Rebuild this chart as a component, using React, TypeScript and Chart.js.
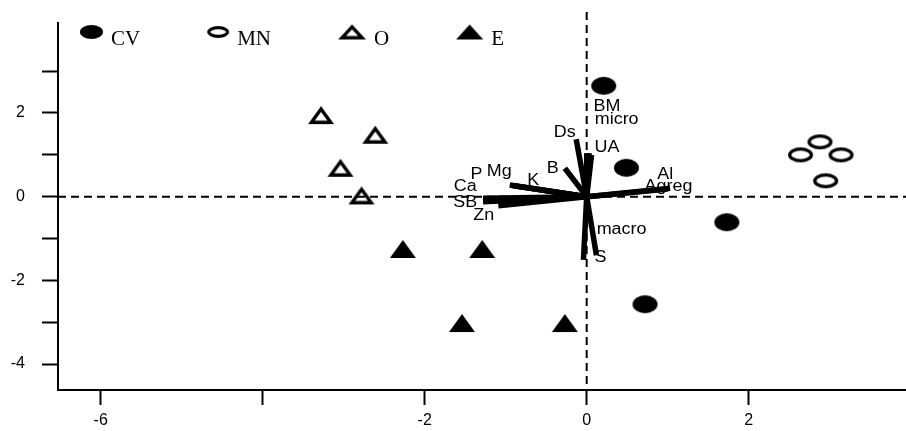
import React, { useEffect, useRef } from 'react';
import { Chart, registerables } from 'chart.js';

Chart.register(...registerables);

// ---- data ----
const groupNames = ['CV', 'MN', 'O', 'E'];
const cvX = [0.21, 0.49, 1.73, 0.72];
const cvY = [2.65, 0.69, -0.61, -2.57];
const mnX = [2.88, 2.64, 3.14, 2.95];
const mnY = [1.31, 1.0, 1.0, 0.38];
const oX = [-3.28, -2.61, -3.04, -2.78];
const oY = [1.95, 1.48, 0.69, 0.03];
const eX = [-2.27, -1.29, -1.54, -0.27];
const eY = [-1.25, -1.25, -3.02, -3.02];

const vecLabels = ['BM', 'micro', 'UA', 'Ds', 'B', 'K', 'Mg', 'P', 'Ca', 'SB', 'Zn', 'Al', 'Agreg', 'macro', 'S'];
const vecX = [0.03, 0.06, 0.0, -0.13, -0.27, -0.95, -0.93, -0.9, -1.28, -1.28, -1.09, 1.03, 1.0, 0.12, -0.04];
const vecY = [1.04, 1.0, 1.04, 1.37, 0.68, 0.28, 0.27, 0.26, -0.04, -0.12, -0.22, 0.2, 0.18, -1.4, -1.51];
const labX = [0.25, 0.37, 0.25, -0.27, -0.42, -0.66, -1.08, -1.36, -1.5, -1.5, -1.27, 0.97, 1.01, 0.43, 0.17];
const labY = [2.15, 1.85, 1.18, 1.52, 0.66, 0.38, 0.61, 0.52, 0.24, -0.14, -0.45, 0.52, 0.24, -0.78, -1.45];

const xTicks = [-6, -4, -2, 0, 2];
const xTickLabels = ['-6', '', '-2', '0', '2'];
const yTicks = [-4, -3, -2, -1, 0, 1, 2, 3];
const yTickLabels = ['-4', '', '-2', '', '0', '', '2', ''];

const X_MIN = -6.527;
const X_MAX = 3.942;
const Y_MIN = -4.62;
const Y_MAX = 4.15;

const SANS = '"Liberation Sans", Arial, sans-serif';
const SERIF = '"Liberation Serif", "Times New Roman", serif';

function makeMarker(kind: 'ellipse' | 'triangle', filled: boolean, w: number, h: number, lw: number) {
  const c = document.createElement('canvas');
  const pad = 2;
  c.width = Math.ceil(w + pad * 2);
  c.height = Math.ceil(h + pad * 2);
  const ctx = c.getContext('2d')!;
  const cx = c.width / 2;
  const cy = c.height / 2;
  ctx.fillStyle = '#000';
  ctx.strokeStyle = '#000';
  ctx.beginPath();
  if (kind === 'ellipse') {
    ctx.ellipse(cx, cy, w / 2, h / 2, 0, 0, Math.PI * 2);
  } else {
    ctx.moveTo(cx, cy - h / 2);
    ctx.lineTo(cx + w / 2, cy + h / 2);
    ctx.lineTo(cx - w / 2, cy + h / 2);
    ctx.closePath();
  }
  if (filled) {
    ctx.fill();
  } else {
    ctx.save();
    ctx.clip();
    ctx.lineWidth = lw * 2;
    ctx.lineJoin = 'miter';
    ctx.stroke();
    ctx.restore();
  }
  return c;
}

export default function App() {
  const ref = useRef<HTMLCanvasElement | null>(null);

  useEffect(() => {
    if (!ref.current) return;

    const plotMarkers = [
      makeMarker('ellipse', true, 25, 18, 0),
      makeMarker('ellipse', false, 25, 15, 3.3),
      makeMarker('triangle', false, 26, 18, 3.4),
      makeMarker('triangle', true, 26, 18, 0),
    ];
    const legendMarkers = [
      makeMarker('ellipse', true, 23, 14, 0),
      makeMarker('ellipse', false, 22, 12, 3.2),
      makeMarker('triangle', false, 28, 15, 3.4),
      makeMarker('triangle', true, 27, 15, 0),
    ];

    const groupXs = [cvX, mnX, oX, eX];
    const groupYs = [cvY, mnY, oY, eY];

    const vectorSets: any[] = vecLabels.map((name, i) => ({
      label: name,
      data: [
        { x: 0, y: 0 },
        { x: vecX[i], y: vecY[i] },
      ],
      showLine: true,
      borderColor: '#000',
      borderWidth: 5.5,
      borderCapStyle: 'butt',
      pointRadius: 0,
      pointHoverRadius: 0,
    }));

    const pointSets: any[] = groupNames.map((name, g) => ({
      label: name,
      data: groupXs[g].map((x, i) => ({ x, y: groupYs[g][i] })),
      pointStyle: plotMarkers[g],
      pointRadius: 10,
      pointHoverRadius: 10,
      backgroundColor: '#000',
      borderColor: '#000',
    }));

    const overlay = {
      id: 'overlay',
      beforeDatasetsDraw(chart: any) {
        const { ctx, chartArea, scales } = chart;
        const x0 = scales.x.getPixelForValue(0);
        const y0 = scales.y.getPixelForValue(0);
        ctx.save();
        ctx.strokeStyle = '#000';
        ctx.lineWidth = 2;
        ctx.setLineDash([8, 5]);
        ctx.beginPath();
        ctx.moveTo(chartArea.left, y0);
        ctx.lineTo(chartArea.right, y0);
        ctx.stroke();
        ctx.beginPath();
        ctx.moveTo(x0, chartArea.top - 11);
        ctx.lineTo(x0, chartArea.bottom);
        ctx.stroke();
        ctx.restore();
      },
      afterDatasetsDraw(chart: any) {
        const { ctx, chartArea, scales } = chart;
        ctx.save();
        // vector labels
        ctx.fillStyle = '#000';
        ctx.font = `16px ${SANS}`;
        ctx.textAlign = 'center';
        ctx.textBaseline = 'middle';
        vecLabels.forEach((name, i) => {
          const px = scales.x.getPixelForValue(labX[i]);
          const py = scales.y.getPixelForValue(labY[i]);
          ctx.save();
          ctx.translate(px, py);
          ctx.scale(1.12, 1);
          ctx.fillText(name, 0, 0);
          ctx.restore();
        });
        // legend
        ctx.font = `21px ${SERIF}`;
        ctx.textAlign = 'left';
        ctx.textBaseline = 'alphabetic';
        let x = chartArea.left + 22;
        const markerY = chartArea.top + 9;
        const textY = chartArea.top + 22;
        groupNames.forEach((name, g) => {
          const m = legendMarkers[g];
          const mw = m.width - 4;
          ctx.drawImage(m, x - 2, markerY - m.height / 2);
          x += mw + 8;
          ctx.fillText(name, x, textY);
          x += ctx.measureText(name).width + 67;
        });
        ctx.restore();
      },
    };

    const chart = new Chart(ref.current, {
      type: 'scatter',
      data: { datasets: [...vectorSets, ...pointSets] },
      options: {
        animation: false,
        responsive: true,
        maintainAspectRatio: false,
        layout: { autoPadding: false, padding: { top: 23, right: 0, bottom: 0, left: 0 } },
        plugins: {
          legend: { display: false },
          tooltip: { enabled: false },
        },
        scales: {
          x: {
            type: 'linear',
            min: X_MIN,
            max: X_MAX,
            afterBuildTicks: (s: any) => {
              s.ticks = xTicks.map((v) => ({ value: v }));
            },
            afterFit: (s: any) => {
              s.height = 41;
            },
            border: { display: true, color: '#000', width: 2 },
            grid: {
              display: true,
              drawOnChartArea: false,
              drawTicks: true,
              tickLength: 15,
              tickColor: '#000',
              tickWidth: 2,
              color: '#000',
            },
            ticks: {
              color: '#000',
              font: { family: SANS, size: 16 },
              padding: 6,
              maxRotation: 0,
              autoSkip: false,
              callback: (_v: any, i: number) => xTickLabels[i],
            },
          },
          y: {
            type: 'linear',
            min: Y_MIN,
            max: Y_MAX,
            afterBuildTicks: (s: any) => {
              s.ticks = yTicks.map((v) => ({ value: v }));
            },
            afterFit: (s: any) => {
              s.width = 58;
            },
            border: { display: true, color: '#000', width: 2 },
            grid: {
              display: true,
              drawOnChartArea: false,
              drawTicks: true,
              tickLength: 16,
              tickColor: '#000',
              tickWidth: 2,
              color: '#000',
            },
            ticks: {
              color: '#000',
              font: { family: SANS, size: 16, lineHeight: 0.6 },
              padding: 17,
              autoSkip: false,
              callback: (_v: any, i: number) => yTickLabels[i],
            },
          },
        },
      },
      plugins: [overlay],
    });

    return () => chart.destroy();
  }, []);

  return (
    <div style={{ position: 'fixed', left: 0, top: 0, width: 906, height: 431, background: '#fff' }}>
      <canvas ref={ref} />
    </div>
  );
}
